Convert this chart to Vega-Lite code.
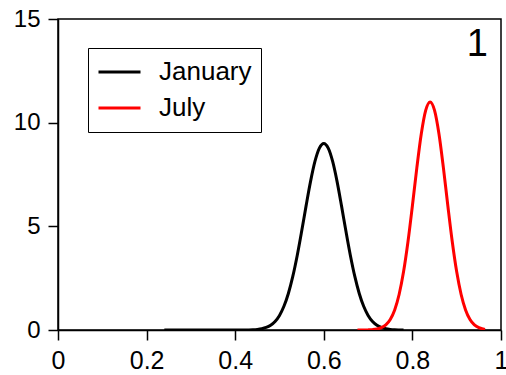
{
  "$schema": "https://vega.github.io/schema/vega-lite/v6.json",
  "width": 443,
  "height": 311,
  "padding": {"left": 58, "top": 19, "right": 5, "bottom": 45},
  "autosize": {"type": "none"},
  "background": "white",
  "config": {
    "font": "Liberation Sans",
    "view": {"stroke": "#000000", "strokeWidth": 1.5},
    "axis": {
      "domainColor": "#000000", "domainWidth": 1.5, "tickColor": "#000000", "tickWidth": 1.5,
      "tickSize": 10, "labelColor": "#000000", "grid": false, "title": null,
      "labelFont": "Liberation Sans"
    }
  },
  "datasets": {
    "curves": [
      {"x": 0.24, "y": 0, "month": "January"},
      {"x": 0.30, "y": 0, "month": "January"},
      {"x": 0.35, "y": 0, "month": "January"},
      {"x": 0.40, "y": 0.0003, "month": "January"},
      {"x": 0.42, "y": 0.002, "month": "January"},
      {"x": 0.44, "y": 0.013, "month": "January"},
      {"x": 0.45, "y": 0.029, "month": "January"},
      {"x": 0.46, "y": 0.061, "month": "January"},
      {"x": 0.47, "y": 0.122, "month": "January"},
      {"x": 0.48, "y": 0.230, "month": "January"},
      {"x": 0.49, "y": 0.412, "month": "January"},
      {"x": 0.50, "y": 0.704, "month": "January"},
      {"x": 0.51, "y": 1.143, "month": "January"},
      {"x": 0.52, "y": 1.762, "month": "January"},
      {"x": 0.53, "y": 2.583, "month": "January"},
      {"x": 0.54, "y": 3.596, "month": "January"},
      {"x": 0.55, "y": 4.760, "month": "January"},
      {"x": 0.56, "y": 5.987, "month": "January"},
      {"x": 0.57, "y": 7.156, "month": "January"},
      {"x": 0.58, "y": 8.128, "month": "January"},
      {"x": 0.59, "y": 8.773, "month": "January"},
      {"x": 0.60, "y": 9.0, "month": "January"},
      {"x": 0.61, "y": 8.773, "month": "January"},
      {"x": 0.62, "y": 8.128, "month": "January"},
      {"x": 0.63, "y": 7.156, "month": "January"},
      {"x": 0.64, "y": 5.987, "month": "January"},
      {"x": 0.65, "y": 4.760, "month": "January"},
      {"x": 0.66, "y": 3.596, "month": "January"},
      {"x": 0.67, "y": 2.583, "month": "January"},
      {"x": 0.68, "y": 1.762, "month": "January"},
      {"x": 0.69, "y": 1.143, "month": "January"},
      {"x": 0.70, "y": 0.704, "month": "January"},
      {"x": 0.71, "y": 0.412, "month": "January"},
      {"x": 0.72, "y": 0.230, "month": "January"},
      {"x": 0.73, "y": 0.122, "month": "January"},
      {"x": 0.74, "y": 0.061, "month": "January"},
      {"x": 0.75, "y": 0.029, "month": "January"},
      {"x": 0.76, "y": 0.013, "month": "January"},
      {"x": 0.78, "y": 0.002, "month": "January"},
      {"x": 0.676, "y": 0, "month": "July"},
      {"x": 0.69, "y": 0.002, "month": "July"},
      {"x": 0.70, "y": 0.006, "month": "July"},
      {"x": 0.71, "y": 0.018, "month": "July"},
      {"x": 0.72, "y": 0.047, "month": "July"},
      {"x": 0.73, "y": 0.111, "month": "July"},
      {"x": 0.74, "y": 0.247, "month": "July"},
      {"x": 0.75, "y": 0.508, "month": "July"},
      {"x": 0.76, "y": 0.969, "month": "July"},
      {"x": 0.77, "y": 1.713, "month": "July"},
      {"x": 0.78, "y": 2.806, "month": "July"},
      {"x": 0.79, "y": 4.259, "month": "July"},
      {"x": 0.80, "y": 5.994, "month": "July"},
      {"x": 0.81, "y": 7.817, "month": "July"},
      {"x": 0.82, "y": 9.451, "month": "July"},
      {"x": 0.83, "y": 10.59, "month": "July"},
      {"x": 0.84, "y": 11.0, "month": "July"},
      {"x": 0.85, "y": 10.59, "month": "July"},
      {"x": 0.86, "y": 9.451, "month": "July"},
      {"x": 0.87, "y": 7.817, "month": "July"},
      {"x": 0.88, "y": 5.994, "month": "July"},
      {"x": 0.89, "y": 4.259, "month": "July"},
      {"x": 0.90, "y": 2.806, "month": "July"},
      {"x": 0.91, "y": 1.713, "month": "July"},
      {"x": 0.92, "y": 0.969, "month": "July"},
      {"x": 0.93, "y": 0.508, "month": "July"},
      {"x": 0.94, "y": 0.247, "month": "July"},
      {"x": 0.95, "y": 0.111, "month": "July"},
      {"x": 0.96, "y": 0.047, "month": "July"},
      {"x": 0.964, "y": 0.03, "month": "July"}
    ],
    "label": [{"text": "1"}]
  },
  "layer": [
    {
      "data": {"name": "curves"},
      "mark": {"type": "line", "strokeWidth": 3, "interpolate": "monotone", "clip": true},
      "encoding": {
        "x": {"field": "x", "type": "quantitative",
              "scale": {"domain": [0, 1], "nice": false, "zero": false},
              "axis": {"values": [0, 0.2, 0.4, 0.6, 0.8, 1], "format": "~g", "labelFontSize": 25, "labelPadding": 8, "labelFlush": false}},
        "y": {"field": "y", "type": "quantitative",
              "scale": {"domain": [0, 15], "nice": false},
              "axis": {"values": [0, 5, 10, 15], "labelFontSize": 24, "labelPadding": 8}},
        "color": {"field": "month", "type": "nominal",
                  "scale": {"domain": ["January", "July"], "range": ["#000000", "#ff0000"]},
                  "legend": {
                    "title": null, "orient": "none", "legendX": 30, "legendY": 29,
                    "symbolType": "stroke", "symbolSize": 1764, "symbolStrokeWidth": 3,
                    "labelFontSize": 26, "labelColor": "#000000", "labelOffset": 17,
                    "clipHeight": 30, "rowPadding": 6, "padding": 9,
                    "strokeColor": "#000000", "fillColor": "white", "cornerRadius": 0
                  }}
      }
    },
    {
      "data": {"name": "label"},
      "mark": {"type": "text", "fontSize": 38, "align": "right", "baseline": "top", "dx": -13, "dy": 7, "color": "#000000"},
      "encoding": {
        "x": {"datum": 1, "type": "quantitative"},
        "y": {"datum": 15, "type": "quantitative"},
        "text": {"field": "text"}
      }
    }
  ]
}
